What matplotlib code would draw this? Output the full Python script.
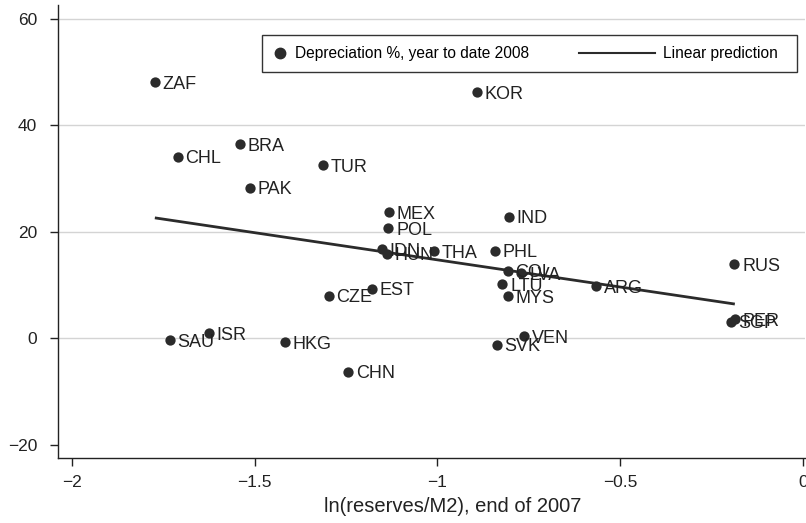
import numpy as np
import matplotlib
matplotlib.use('Agg')
import matplotlib.pyplot as plt
from matplotlib.lines import Line2D
from matplotlib.patches import Rectangle

plt.rcParams['font.family'] = ['Liberation Sans', 'DejaVu Sans']

countries = ['ZAF', 'KOR', 'CHL', 'BRA', 'TUR', 'PAK', 'MEX', 'POL', 'IND', 'IDN',
             'HUN', 'THA', 'PHL', 'COL', 'LVA', 'LTU', 'MYS', 'ARG', 'EST', 'CZE',
             'VEN', 'SVK', 'SAU', 'ISR', 'HKG', 'CHN', 'RUS', 'PER', 'SGP']
reserves = [-1.773, -0.891, -1.710, -1.541, -1.313, -1.514, -1.133, -1.134, -0.805, -1.152,
            -1.139, -1.008, -0.842, -0.808, -0.770, -0.822, -0.807, -0.565, -1.178, -1.297,
            -0.762, -0.838, -1.732, -1.625, -1.418, -1.244, -0.187, -0.186, -0.197]
depreciation = [48.1, 46.2, 34.1, 36.4, 32.5, 28.3, 23.7, 20.7, 22.8, 16.7,
                15.9, 16.35, 16.4, 12.65, 12.2, 10.1, 7.9, 9.8, 9.3, 7.95,
                0.4, -1.2, -0.4, 0.9, -0.8, -6.3, 13.9, 3.6, 3.1]

xticks = [-2, -1.5, -1, -0.5, 0]
xticklabels = ['\u22122', '\u22121.5', '\u22121', '\u22120.5', '0']
yticks = [-20, 0, 20, 40, 60]
yticklabels = ['\u221220', '0', '20', '40', '60']

W, H = 806, 523
dot_color = '#2b2b2b'
txt_color = '#222222'

fig = plt.figure(figsize=(W / 100, H / 100), dpi=100)
ax = fig.add_axes([58 / W, 1 - 458 / H, (805 - 58) / W, (458 - 5) / H])

x = np.array(reserves)
y = np.array(depreciation)

# horizontal grid
for yt in [0, 20, 40, 60]:
    ax.axhline(yt, color='#d4d4d4', lw=1.0, zorder=0)

# linear prediction
b, a = np.polyfit(x, y, 1)
xs = np.array([x.min(), x.max()])
ax.plot(xs, a + b * xs, color=dot_color, lw=2.0, zorder=2, solid_capstyle='butt')

ax.scatter(x, y, s=55, color=dot_color, zorder=3, linewidths=0)
for name, xi, yi in zip(countries, reserves, depreciation):
    ax.annotate(name, (xi, yi), xytext=(5.5, 0), textcoords='offset points',
                va='center_baseline', ha='left', fontsize=13, color=txt_color, zorder=4)

ax.set_xlim(-2.038, 0.006)
ax.set_ylim(-22.5, 62.6)
ax.set_xticks(xticks)
ax.set_xticklabels(xticklabels)
ax.set_yticks(yticks)
ax.set_yticklabels(yticklabels)
ax.tick_params(direction='out', length=6, width=1, labelsize=12.5, colors=txt_color)
ax.tick_params(axis='y', pad=9)
ax.tick_params(axis='x', pad=6)
ax.spines['top'].set_visible(False)
ax.spines['right'].set_visible(False)
for s in ['left', 'bottom']:
    ax.spines[s].set_linewidth(1.0)
    ax.spines[s].set_color(txt_color)
ax.set_xlabel('ln(reserves/M2), end of 2007', fontsize=14.5, color=txt_color, labelpad=8)
ax.xaxis.set_label_coords(0.529, -0.085)

# legend box
fig.add_artist(Rectangle((262 / W, 1 - 72 / H), (797 - 262) / W, 37 / H,
                         transform=fig.transFigure, fill=False, ec='#333333', lw=1.0))
h1 = Line2D([], [], ls='none', marker='o', ms=7.5, color=dot_color)
h2 = Line2D([], [], color=dot_color, lw=1.5)
leg1 = ax.legend([h1], ['Depreciation %, year to date 2008'], loc='center left',
                 bbox_to_anchor=(272 / W, 1 - 53.5 / H), bbox_transform=fig.transFigure,
                 frameon=False, borderpad=0, borderaxespad=0, handlelength=1.0,
                 handletextpad=0.5, fontsize=11.2)
ax.add_artist(leg1)
ax.legend([h2], ['Linear prediction'], loc='center right',
          bbox_to_anchor=(778 / W, 1 - 53.5 / H), bbox_transform=fig.transFigure,
          frameon=False, borderpad=0, borderaxespad=0, handlelength=4.9,
          handletextpad=0.5, fontsize=11.2)

fig.savefig('out.png', dpi=100)
